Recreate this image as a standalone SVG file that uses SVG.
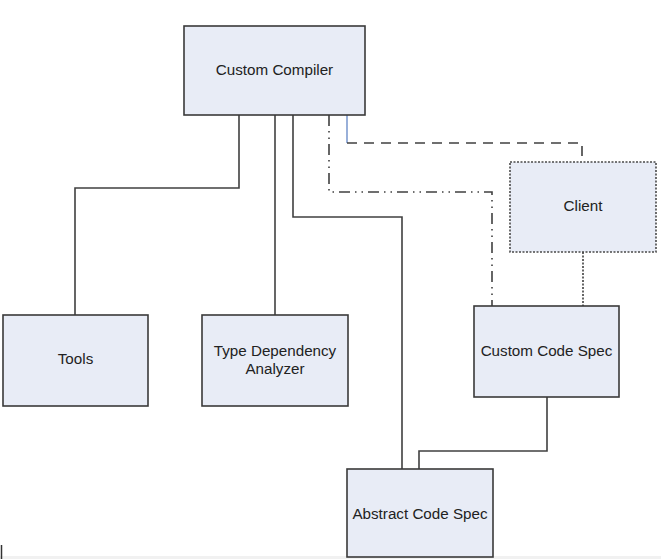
<svg xmlns="http://www.w3.org/2000/svg" width="661" height="559" viewBox="0 0 661 559">
<style>
.box{fill:#e8ecf6;stroke:#3a3a3a;stroke-width:1.6}
.dotbox{fill:#e8ecf6;stroke:#4a4a4a;stroke-width:1.6;stroke-dasharray:2 1.5}
.lbl{font-family:"Liberation Sans",Arial,sans-serif;font-size:15.2px;fill:#222;text-anchor:middle}
.ln{fill:none;stroke:#404040;stroke-width:1.6}
</style>
<rect x="0" y="0" width="661" height="559" fill="#ffffff"/>
<rect x="0" y="556" width="661" height="3" fill="#f1f1f1"/>
<line x1="1.5" y1="545" x2="1.5" y2="559" stroke="#333" stroke-width="1.5"/>
<g id="connectors">
<polyline class="ln" points="239,115 239,188 75,188 75,315"/>
<line class="ln" x1="275" y1="115" x2="275" y2="315"/>
<polyline class="ln" points="293,115 293,217 402,217 402,469"/>
<polyline class="ln" points="547,397 547,451 419,451 419,469"/>
<line x1="347" y1="115" x2="347" y2="143" stroke="#7f9cd0" stroke-width="1.6"/>
<polyline class="ln" points="347,143 582,143 582,162" stroke="#555" stroke-width="2" stroke-dasharray="10 7"/>
<polyline class="ln" points="329,115 329,192 492,192 492,306" stroke="#555" stroke-width="1.8" stroke-dasharray="11 5 1.5 5 1.5 5"/>
<line class="ln" x1="583" y1="252" x2="583" y2="306" stroke-dasharray="2 1.5"/>
</g>
<g id="custom-compiler">
<rect class="box" x="184" y="26" width="181" height="89"/>
<text class="lbl" x="274.5" y="75">Custom Compiler</text>
</g>
<g id="tools">
<rect class="box" x="3" y="315" width="145" height="91"/>
<text class="lbl" x="75.5" y="364">Tools</text>
</g>
<g id="type-dependency-analyzer">
<rect class="box" x="202" y="315" width="146" height="91"/>
<text class="lbl" x="275" y="356">Type Dependency</text>
<text class="lbl" x="275" y="374">Analyzer</text>
</g>
<g id="client">
<rect class="dotbox" x="510" y="162" width="146" height="90"/>
<text class="lbl" x="583" y="211">Client</text>
</g>
<g id="custom-code-spec">
<rect class="box" x="474" y="306" width="145" height="91"/>
<text class="lbl" x="546.5" y="356">Custom Code Spec</text>
</g>
<g id="abstract-code-spec">
<rect class="box" x="347" y="469" width="146" height="88"/>
<text class="lbl" x="420" y="519">Abstract Code Spec</text>
</g>
</svg>
